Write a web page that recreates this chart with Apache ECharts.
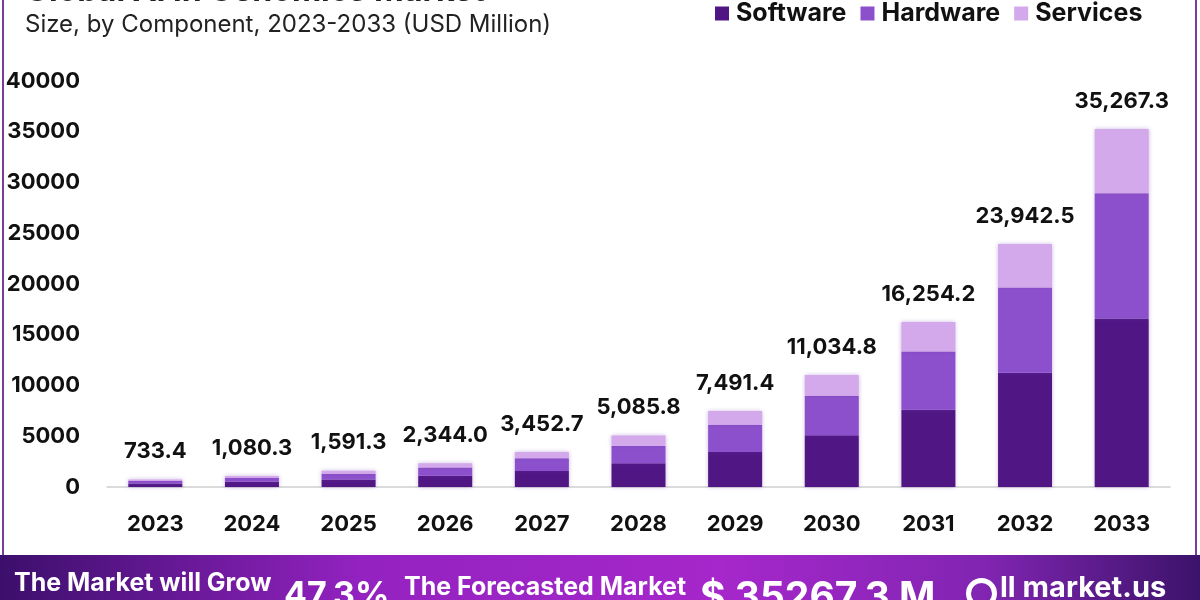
<!DOCTYPE html>
<html>
<head>
<meta charset="utf-8">
<script src="https://cdn.jsdelivr.net/npm/echarts@6/dist/echarts.min.js"></script>
<style>
  html, body { margin: 0; padding: 0; background: #fff; }
  #chart { width: 1200px; height: 600px; }
</style>
</head>
<body>
<div id="chart"></div>
<script>
// categories and values (USD Million)
const years = ['2023', '2024', '2025', '2026', '2027', '2028', '2029', '2030', '2031', '2032', '2033']
const software = [345, 505, 750, 1100, 1570, 2340, 3460, 5110, 7600, 11260, 16600]
const hardware = [255, 380, 560, 820, 1270, 1710, 2670, 3880, 5740, 8400, 12350]
const services = [133, 195, 281, 424, 613, 1036, 1361, 2045, 2914, 4283, 6317]
const totals = [733.4, 1080.3, 1591.3, 2344.0, 3452.7, 5085.8, 7491.4, 11034.8, 16254.2, 23942.5, 35267.3]

const FONT = 'Inter, "Noto Sans", sans-serif'
const fmt = v => v.toLocaleString('en-US', { minimumFractionDigits: 1, maximumFractionDigits: 1 })

const chart = echarts.init(document.getElementById('chart'))

const barShadow = {
  shadowBlur: 4,
  shadowColor: 'rgba(110, 50, 170, 0.35)'
}

chart.setOption({
  animation: false,
  textStyle: { fontFamily: FONT },
  title: [
    {
      // only the bottom of this line shows in the picture
      text: 'Global AI in Genomics Market',
      left: 20,
      top: -30,
      textStyle: { fontSize: 32, fontWeight: 'bold', color: '#222', fontFamily: FONT }
    },
    {
      text: 'Size, by Component, 2023-2033 (USD Million)',
      left: 20,
      top: 8,
      textStyle: { fontSize: 24, fontWeight: 'normal', color: '#222', fontFamily: FONT }
    }
  ],
  legend: {
    data: ['Software', 'Hardware', 'Services'],
    left: 710,
    top: -4,
    itemWidth: 14,
    itemHeight: 14,
    itemGap: 14,
    icon: 'rect',
    textStyle: { fontSize: 25, fontWeight: 'bold', color: '#111', fontFamily: FONT, padding: [0, 0, 0, 2] }
  },
  grid: { left: 107, right: 30, top: 81, bottom: 113 },
  xAxis: {
    type: 'category',
    data: years,
    axisLine: { lineStyle: { color: '#cfcfcf', width: 1.5 } },
    axisTick: { show: false },
    axisLabel: { margin: 26, fontSize: 22, fontWeight: 'bold', color: '#111', fontFamily: FONT }
  },
  yAxis: {
    type: 'value',
    min: 0,
    max: 40000,
    interval: 5000,
    splitLine: { show: false },
    axisLine: { show: false },
    axisTick: { show: false },
    axisLabel: {
      margin: 27, fontSize: 22, fontWeight: 'bold', color: '#111', fontFamily: FONT,
      formatter: v => String(v)
    }
  },
  series: [
    {
      name: 'Software',
      type: 'bar',
      stack: 'total',
      barWidth: 54,
      data: software,
      itemStyle: Object.assign({ color: '#4f1684' }, barShadow)
    },
    {
      name: 'Hardware',
      type: 'bar',
      stack: 'total',
      data: hardware,
      itemStyle: Object.assign({ color: '#8c50cc' }, barShadow)
    },
    {
      name: 'Services',
      type: 'bar',
      stack: 'total',
      data: services,
      itemStyle: Object.assign({ color: '#d3a9ec' }, barShadow),
      label: {
        show: true,
        position: 'top',
        distance: 17,
        fontSize: 22,
        fontWeight: 'bold',
        color: '#111',
        fontFamily: FONT,
        formatter: p => fmt(totals[p.dataIndex])
      }
    }
  ],
  graphic: [
    // side borders
    { type: 'rect', left: 2, top: 0, shape: { width: 2, height: 555 }, style: { fill: '#7b3b9c' } },
    { type: 'rect', left: 1195, top: 0, shape: { width: 2, height: 555 }, style: { fill: '#7b3b9c' } },
    // bottom banner
    {
      type: 'rect',
      left: 0,
      top: 555,
      shape: { width: 1200, height: 45 },
      style: {
        fill: new echarts.graphic.LinearGradient(0, 0, 1, 0, [
          { offset: 0, color: '#3c0f6c' },
          { offset: 0.3, color: '#9322c0' },
          { offset: 0.6, color: '#a627cb' },
          { offset: 0.82, color: '#8125b2' },
          { offset: 1, color: '#3c136a' }
        ])
      }
    },
    {
      type: 'text', left: 14, top: 571,
      style: { text: 'The Market will Grow', fill: '#fff', font: 'bold 25px ' + FONT }
    },
    {
      type: 'text', left: 284, top: 579,
      style: { text: '47.3%', fill: '#fff', font: 'bold 34px ' + FONT }
    },
    {
      type: 'text', left: 404, top: 575,
      style: { text: 'The Forecasted Market', fill: '#fff', font: 'bold 25px ' + FONT }
    },
    {
      type: 'text', left: 700, top: 579,
      style: { text: '$ 35267.3 M', fill: '#fff', font: 'bold 39px ' + FONT }
    },
    {
      type: 'circle', left: 966, top: 578,
      shape: { r: 13 },
      style: { fill: 'none', stroke: '#fff', lineWidth: 5 }
    },
    {
      type: 'text', left: 1000, top: 574,
      style: { text: 'll market.us', fill: '#fff', font: 'bold 29px ' + FONT }
    }
  ]
})
</script>
</body>
</html>
